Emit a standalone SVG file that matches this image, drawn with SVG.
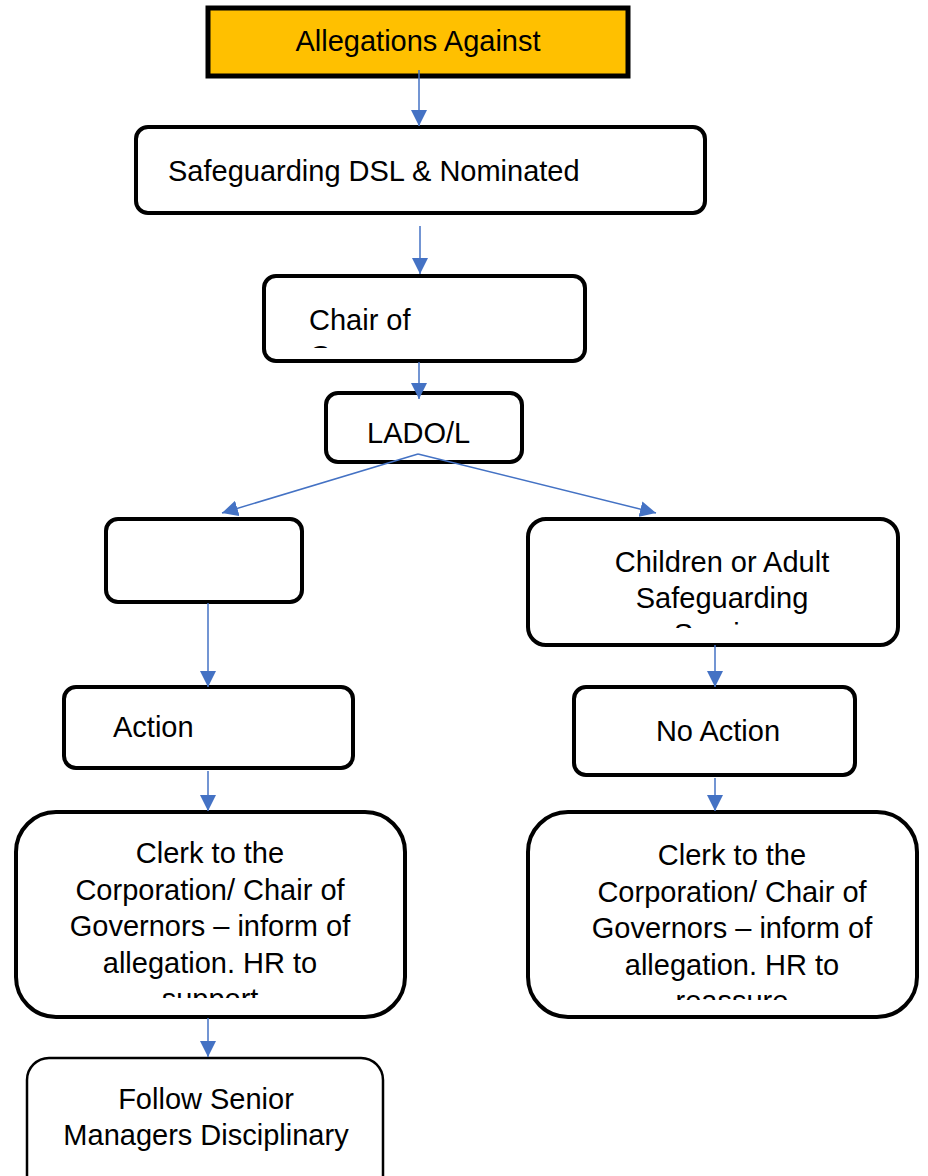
<svg xmlns="http://www.w3.org/2000/svg" width="928" height="1176" viewBox="0 0 928 1176">
<style>
.box{fill:#fff;stroke:#000;stroke-width:4}
.t{font-family:"Liberation Sans",Arial,sans-serif;font-size:29px;fill:#000}
.c{text-anchor:middle}
.ln{stroke:#4472C4;stroke-width:1.5;fill:none;marker-end:url(#ah)}
</style>
<defs>
<marker id="ah" viewBox="0 0 10 10" refX="10" refY="5" markerWidth="16" markerHeight="16" markerUnits="userSpaceOnUse" orient="auto">
<path d="M0,0 L10,5 L0,10 z" fill="#4472C4"/>
</marker>
<clipPath id="c3"><rect x="264" y="276" width="321" height="72"/></clipPath>
<clipPath id="c6"><rect x="528" y="519" width="370" height="109"/></clipPath>
<clipPath id="c9"><rect x="15" y="812" width="390" height="186"/></clipPath>
<clipPath id="c10"><rect x="528" y="812" width="389" height="188"/></clipPath>
</defs>
<g id="n1">
<rect x="208" y="8" width="420" height="68" fill="#FFC000" stroke="#000" stroke-width="5"/>
<text class="t c" x="418" y="51">Allegations Against</text>
</g>
<g id="n2">
<rect class="box" x="136" y="127" width="569" height="86" rx="12"/>
<text class="t" x="168" y="181">Safeguarding DSL &amp; Nominated</text>
</g>
<g id="n3">
<rect class="box" x="264" y="276" width="321" height="85" rx="12"/>
<g clip-path="url(#c3)">
<text class="t" x="309" y="330">Chair of</text>
<text class="t" x="309" y="366">Governors</text>
</g>
</g>
<g id="n4">
<rect class="box" x="326" y="393" width="196" height="69" rx="12"/>
<text class="t" x="367" y="443">LADO/L</text>
</g>
<g id="n5">
<rect class="box" x="106" y="519" width="196" height="83" rx="12"/>
</g>
<g id="n6">
<rect class="box" x="528" y="519" width="370" height="126" rx="18"/>
<g clip-path="url(#c6)">
<text class="t c" x="722" y="572">Children or Adult</text>
<text class="t c" x="722" y="608">Safeguarding</text>
<text class="t c" x="722" y="644">Service</text>
</g>
</g>
<g id="n7">
<rect class="box" x="64" y="687" width="289" height="81" rx="12"/>
<text class="t" x="113" y="737">Action</text>
</g>
<g id="n8">
<rect class="box" x="574" y="687" width="281" height="88" rx="12"/>
<text class="t c" x="718" y="741">No Action</text>
</g>
<g id="n9">
<rect class="box" x="16" y="812" width="389" height="205" rx="40"/>
<g clip-path="url(#c9)">
<text class="t c" x="210" y="863">Clerk to the</text>
<text class="t c" x="210" y="900">Corporation/ Chair of</text>
<text class="t c" x="210" y="936">Governors – inform of</text>
<text class="t c" x="210" y="973">allegation. HR to</text>
<text class="t c" x="210" y="1009">support</text>
</g>
</g>
<g id="n10">
<rect class="box" x="528" y="812" width="389" height="205" rx="40"/>
<g clip-path="url(#c10)">
<text class="t c" x="732" y="865">Clerk to the</text>
<text class="t c" x="732" y="902">Corporation/ Chair of</text>
<text class="t c" x="732" y="938">Governors – inform of</text>
<text class="t c" x="732" y="975">allegation. HR to</text>
<text class="t c" x="732" y="1011">reassure</text>
</g>
</g>
<g id="n11">
<rect x="27" y="1058" width="356" height="140" rx="22" fill="#fff" stroke="#000" stroke-width="2.5"/>
<text class="t c" x="206" y="1109">Follow Senior</text>
<text class="t c" x="206" y="1145">Managers Disciplinary</text>
</g>
<g id="connectors">
<line class="ln" x1="419" y1="70" x2="419" y2="126"/>
<line class="ln" x1="420" y1="226" x2="420" y2="274"/>
<line class="ln" x1="419" y1="362" x2="419" y2="399"/>
<line class="ln" x1="418" y1="454" x2="222" y2="513"/>
<line class="ln" x1="418" y1="454" x2="656" y2="513"/>
<line class="ln" x1="208" y1="603" x2="208" y2="687"/>
<line class="ln" x1="715" y1="645" x2="715" y2="687"/>
<line class="ln" x1="208" y1="771" x2="208" y2="811"/>
<line class="ln" x1="715" y1="778" x2="715" y2="811"/>
<line class="ln" x1="208" y1="1018" x2="208" y2="1057"/>
</g>
</svg>
